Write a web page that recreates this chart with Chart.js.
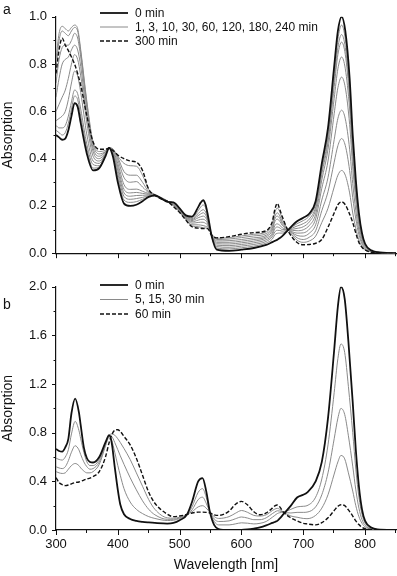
<!DOCTYPE html>
<html>
<head>
<meta charset="utf-8">
<script src="https://cdn.jsdelivr.net/npm/chart.js@4.4.1/dist/chart.umd.min.js"></script>
<style>
  html, body { margin: 0; padding: 0; background: #fff; }
  #wrap { position: relative; width: 397px; height: 576px; }
  canvas { position: absolute; left: 0; }
  #chartA { top: 0; }
  #chartB { top: 270px; }
</style>
</head>
<body>
<div id="wrap">
  <canvas id="chartA" width="397" height="270"></canvas>
  <canvas id="chartB" width="397" height="306"></canvas>
</div>
<script>
// ---- panel a : wavelengths (nm) and spectra ----
const lambdaA = [300,305,310,315,320,325,330,335,340,350,360,370,380,386,392,400,410,420,430,440,450,460,470,480,490,500,510,520,530,534,538,542,545,552,560,580,600,620,640,650,654,658,662,666,676,690,700,710,720,730,740,750,756,762,768,775,780,785,790,795,800,810,820,850];

const a0 = [0.50,0.49,0.48,0.485,0.52,0.58,0.635,0.62,0.55,0.42,0.35,0.36,0.41,0.445,0.41,0.30,0.21,0.20,0.205,0.22,0.238,0.244,0.232,0.217,0.215,0.19,0.16,0.155,0.195,0.214,0.224,0.205,0.17,0.07,0.015,0.01,0.015,0.022,0.035,0.047,0.052,0.057,0.064,0.072,0.10,0.135,0.15,0.168,0.22,0.38,0.53,0.79,0.94,1.0,0.94,0.74,0.50,0.31,0.17,0.085,0.04,0.012,0.004,0];
const a1 = [0.52,0.51,0.50,0.51,0.55,0.61,0.665,0.65,0.58,0.44,0.36,0.365,0.415,0.445,0.415,0.32,0.225,0.215,0.218,0.228,0.24,0.245,0.233,0.218,0.214,0.188,0.158,0.15,0.18,0.195,0.204,0.192,0.16,0.07,0.022,0.018,0.023,0.03,0.043,0.06,0.078,0.084,0.085,0.085,0.10,0.125,0.138,0.158,0.21,0.365,0.51,0.76,0.905,0.965,0.905,0.71,0.48,0.295,0.16,0.08,0.038,0.011,0.004,0];
const a3 = [0.54,0.53,0.53,0.54,0.58,0.64,0.69,0.675,0.61,0.46,0.375,0.37,0.415,0.445,0.42,0.335,0.24,0.228,0.231,0.236,0.243,0.246,0.233,0.219,0.213,0.186,0.156,0.146,0.168,0.178,0.184,0.174,0.15,0.071,0.028,0.025,0.03,0.037,0.05,0.07,0.09,0.097,0.096,0.093,0.10,0.115,0.125,0.145,0.197,0.35,0.49,0.73,0.87,0.925,0.87,0.68,0.46,0.28,0.152,0.076,0.036,0.011,0.004,0];
const a10 = [0.56,0.57,0.58,0.60,0.65,0.72,0.77,0.75,0.68,0.50,0.39,0.38,0.42,0.445,0.425,0.35,0.255,0.241,0.244,0.245,0.246,0.246,0.234,0.22,0.212,0.184,0.154,0.142,0.159,0.166,0.171,0.162,0.142,0.072,0.034,0.032,0.037,0.044,0.057,0.078,0.104,0.111,0.107,0.10,0.10,0.105,0.112,0.133,0.185,0.335,0.47,0.705,0.84,0.893,0.84,0.655,0.44,0.27,0.145,0.072,0.034,0.01,0.004,0];
const a30 = [0.60,0.63,0.66,0.69,0.74,0.80,0.84,0.82,0.75,0.55,0.41,0.39,0.42,0.445,0.43,0.365,0.27,0.255,0.257,0.253,0.249,0.246,0.234,0.22,0.211,0.182,0.152,0.138,0.15,0.154,0.157,0.15,0.135,0.073,0.04,0.039,0.044,0.051,0.064,0.086,0.117,0.124,0.118,0.108,0.10,0.095,0.099,0.118,0.165,0.31,0.44,0.655,0.78,0.83,0.78,0.61,0.41,0.25,0.135,0.067,0.032,0.01,0.004,0];
const a60 = [0.66,0.74,0.80,0.82,0.83,0.86,0.88,0.86,0.79,0.58,0.43,0.40,0.425,0.445,0.435,0.38,0.29,0.27,0.271,0.262,0.252,0.247,0.234,0.22,0.209,0.18,0.15,0.133,0.14,0.143,0.144,0.138,0.128,0.074,0.046,0.046,0.051,0.058,0.07,0.097,0.133,0.144,0.135,0.118,0.10,0.085,0.086,0.102,0.145,0.275,0.39,0.59,0.70,0.745,0.70,0.545,0.365,0.225,0.12,0.06,0.028,0.009,0.003,0];
const a120 = [0.72,0.82,0.87,0.88,0.88,0.90,0.93,0.91,0.83,0.61,0.445,0.41,0.43,0.445,0.44,0.395,0.32,0.30,0.303,0.28,0.256,0.247,0.234,0.221,0.206,0.178,0.148,0.127,0.13,0.131,0.131,0.126,0.12,0.076,0.052,0.053,0.058,0.065,0.076,0.105,0.145,0.157,0.147,0.125,0.10,0.075,0.072,0.085,0.12,0.225,0.32,0.48,0.57,0.605,0.568,0.44,0.295,0.18,0.097,0.048,0.023,0.008,0.003,0];
const a180 = [0.78,0.90,0.94,0.93,0.92,0.94,0.955,0.94,0.85,0.63,0.46,0.42,0.43,0.445,0.44,0.405,0.345,0.33,0.33,0.30,0.26,0.248,0.235,0.221,0.203,0.176,0.145,0.12,0.12,0.119,0.117,0.114,0.112,0.078,0.058,0.06,0.066,0.073,0.083,0.113,0.155,0.171,0.158,0.133,0.10,0.065,0.058,0.068,0.095,0.18,0.26,0.385,0.455,0.485,0.455,0.35,0.235,0.145,0.078,0.039,0.018,0.007,0.003,0];
const a240 = [0.82,0.93,0.96,0.95,0.94,0.955,0.965,0.95,0.86,0.64,0.47,0.43,0.435,0.445,0.44,0.41,0.38,0.37,0.368,0.33,0.27,0.248,0.235,0.222,0.20,0.174,0.142,0.115,0.112,0.11,0.108,0.107,0.106,0.08,0.063,0.066,0.073,0.08,0.09,0.125,0.172,0.191,0.175,0.145,0.098,0.055,0.046,0.052,0.072,0.13,0.19,0.28,0.33,0.35,0.33,0.255,0.17,0.105,0.056,0.028,0.014,0.006,0.002,0];
const a300 = [0.76,0.86,0.91,0.88,0.857,0.83,0.80,0.76,0.71,0.58,0.47,0.44,0.44,0.445,0.435,0.415,0.40,0.39,0.385,0.35,0.27,0.245,0.23,0.22,0.197,0.172,0.14,0.112,0.106,0.105,0.104,0.104,0.104,0.075,0.065,0.07,0.08,0.087,0.095,0.135,0.185,0.211,0.185,0.155,0.092,0.045,0.036,0.037,0.042,0.058,0.11,0.17,0.205,0.217,0.205,0.165,0.13,0.085,0.045,0.025,0.014,0.004,0.001,0];

// ---- panel b ----
const lambdaB = [300,305,310,315,320,325,331,337,340,345,350,355,360,370,380,386,390,395,400,404,410,420,430,440,450,460,480,490,500,512,520,530,537,543,549,556,563,580,590,600,610,620,630,640,650,654,658,662,668,680,690,700,706,720,730,740,750,756,761,767,773,780,785,790,795,800,810,820,850];

const b0 = [0.667,0.65,0.645,0.68,0.75,0.96,1.08,0.97,0.86,0.68,0.59,0.56,0.555,0.60,0.72,0.78,0.72,0.52,0.33,0.21,0.13,0.09,0.075,0.067,0.062,0.058,0.053,0.058,0.08,0.128,0.23,0.40,0.427,0.32,0.147,0.04,0.008,0.0,0.0,0.0,0.004,0.012,0.022,0.038,0.058,0.066,0.075,0.095,0.13,0.20,0.267,0.29,0.307,0.40,0.56,0.92,1.48,1.84,2.0,1.9,1.55,1.05,0.66,0.36,0.17,0.075,0.02,0.005,0];
const b5 = [0.59,0.58,0.575,0.60,0.66,0.79,0.893,0.82,0.75,0.64,0.56,0.53,0.53,0.58,0.71,0.775,0.74,0.64,0.53,0.45,0.34,0.23,0.17,0.135,0.11,0.095,0.078,0.08,0.095,0.128,0.19,0.31,0.34,0.27,0.15,0.07,0.042,0.042,0.05,0.059,0.056,0.05,0.055,0.07,0.105,0.12,0.135,0.142,0.147,0.17,0.19,0.195,0.20,0.27,0.42,0.70,1.13,1.41,1.53,1.46,1.18,0.80,0.50,0.27,0.13,0.057,0.015,0.004,0];
const b15 = [0.52,0.51,0.505,0.52,0.57,0.64,0.693,0.66,0.62,0.56,0.52,0.50,0.505,0.56,0.70,0.775,0.77,0.72,0.66,0.61,0.54,0.43,0.33,0.24,0.17,0.125,0.088,0.088,0.10,0.128,0.165,0.25,0.27,0.22,0.148,0.09,0.07,0.075,0.092,0.107,0.098,0.085,0.085,0.10,0.135,0.148,0.158,0.156,0.147,0.14,0.145,0.145,0.147,0.19,0.29,0.47,0.75,0.92,1.0,0.95,0.775,0.525,0.33,0.18,0.085,0.038,0.01,0.003,0];
const b30 = [0.48,0.47,0.465,0.47,0.50,0.53,0.547,0.53,0.51,0.485,0.47,0.47,0.48,0.54,0.69,0.775,0.79,0.78,0.75,0.72,0.67,0.58,0.47,0.36,0.25,0.17,0.10,0.097,0.105,0.128,0.15,0.19,0.20,0.18,0.145,0.11,0.095,0.11,0.137,0.16,0.145,0.12,0.115,0.125,0.16,0.172,0.178,0.17,0.147,0.115,0.105,0.095,0.093,0.12,0.18,0.29,0.46,0.56,0.613,0.585,0.47,0.32,0.20,0.11,0.055,0.025,0.007,0.002,0];
const b60 = [0.43,0.39,0.373,0.365,0.37,0.38,0.39,0.395,0.40,0.41,0.42,0.427,0.44,0.48,0.60,0.72,0.78,0.82,0.825,0.81,0.77,0.70,0.59,0.45,0.31,0.22,0.13,0.11,0.115,0.128,0.14,0.147,0.147,0.145,0.14,0.125,0.12,0.155,0.21,0.235,0.205,0.15,0.125,0.14,0.18,0.198,0.205,0.19,0.147,0.10,0.075,0.055,0.05,0.042,0.06,0.10,0.16,0.195,0.208,0.20,0.165,0.115,0.075,0.045,0.022,0.01,0.003,0.001,0];

// ---- axes ----
const xMajor = [300, 400, 500, 600, 700, 800];
const xMinor = [350, 450, 550, 650, 750, 850];
const yMajorA = [0, 0.2, 0.4, 0.6, 0.8, 1.0];
const yMinorA = [0.1, 0.3, 0.5, 0.7, 0.9];
const yMajorB = [0, 0.4, 0.8, 1.2, 1.6, 2.0];
const yMinorB = [0.2, 0.6, 1.0, 1.4, 1.8];

const legendA = ['0 min', '1, 3, 10, 30, 60, 120, 180, 240 min', '300 min'];
const legendB = ['0 min', '5, 15, 30 min', '60 min'];

const INK = '#111';
const GRAY = '#8a8a8a';
const FONT = '"Liberation Sans", Arial, sans-serif';

const pts = (xs, ys) => xs.map((x, i) => ({ x: x, y: ys[i] }));

const styles = {
    solid: { borderColor: INK, borderWidth: 1.8, borderDash: [] },
    gray: { borderColor: GRAY, borderWidth: 1, borderDash: [] },
    dash: { borderColor: INK, borderWidth: 1.4, borderDash: [4, 2] }
};

function setStroke(ctx, s) {
    ctx.strokeStyle = s.borderColor;
    ctx.lineWidth = s.borderWidth;
    ctx.setLineDash(s.borderDash);
}

// tick marks (major + minor), the legend and the panel letter
const decorations = {
    id: 'decorations',
    afterDraw(chart, args, o) {
        const ctx = chart.ctx;
        const xs = chart.scales.x, ys = chart.scales.y;
        const area = chart.chartArea;
        ctx.save();
        ctx.strokeStyle = INK;
        ctx.lineWidth = 1;
        ctx.setLineDash([]);
        ctx.beginPath();
        xMajor.forEach(v => {
            const px = Math.round(xs.getPixelForValue(v)) + 0.5;
            ctx.moveTo(px, area.bottom); ctx.lineTo(px, area.bottom + 5);
        });
        xMinor.forEach(v => {
            const px = Math.round(xs.getPixelForValue(v)) - 0.5;
            ctx.moveTo(px, area.bottom); ctx.lineTo(px, area.bottom + 3);
        });
        o.yMajor.forEach(v => {
            const py = Math.round(ys.getPixelForValue(v)) + 0.5;
            ctx.moveTo(area.left, py); ctx.lineTo(area.left - 4, py);
        });
        o.yMinor.forEach(v => {
            const py = Math.round(ys.getPixelForValue(v)) + 0.5;
            ctx.moveTo(area.left, py); ctx.lineTo(area.left - 2.5, py);
        });
        ctx.stroke();

        // legend
        const kinds = ['solid', 'gray', 'dash'];
        ctx.font = '12px ' + FONT;
        ctx.fillStyle = INK;
        ctx.textBaseline = 'middle';
        o.legend.forEach((text, i) => {
            const y = o.legendY + i * o.legendGap;
            setStroke(ctx, styles[kinds[i]]);
            ctx.beginPath();
            ctx.moveTo(100, y); ctx.lineTo(128, y);
            ctx.stroke();
            ctx.fillText(text, 135, y + 0.5);
        });

        // panel letter
        ctx.font = '14px ' + FONT;
        ctx.textBaseline = 'alphabetic';
        ctx.fillText(o.letter, 3, o.letterY);
        ctx.restore();
    }
};

function makePanel(id, xsArr, groups, cfg) {
    const datasets = [];
    datasets.push(Object.assign({ data: pts(xsArr, groups.first) }, styles.solid));
    datasets.push(Object.assign({ data: pts(xsArr, groups.last) }, styles.dash));
    groups.mid.forEach(ys => datasets.push(Object.assign({ data: pts(xsArr, ys) }, styles.gray)));

    return new Chart(document.getElementById(id), {
        type: 'line',
        data: { datasets: datasets },
        options: {
            responsive: false,
            animation: false,
            layout: { padding: { left: 0, top: cfg.top, right: 1, bottom: 0 } },
            elements: {
                point: { radius: 0 },
                line: { cubicInterpolationMode: 'monotone', fill: false }
            },
            plugins: {
                legend: { display: false },
                tooltip: { enabled: false },
                decorations: {
                    yMajor: cfg.yMajor, yMinor: cfg.yMinor,
                    legend: cfg.legend, legendY: cfg.legendY, legendGap: cfg.legendGap,
                    letter: cfg.letter, letterY: cfg.letterY
                }
            },
            scales: {
                x: {
                    type: 'linear',
                    min: 300,
                    max: 850,
                    afterBuildTicks: s => { s.ticks = xMajor.map(v => ({ value: v })); },
                    afterFit: s => { s.height = cfg.xHeight; },
                    grid: { display: false, drawTicks: false },
                    border: { display: true, color: INK, width: 1.2 },
                    ticks: {
                        display: cfg.xLabels,
                        padding: 7,
                        color: INK,
                        font: { family: FONT, size: 13 },
                        maxRotation: 0,
                        autoSkip: false
                    },
                    title: {
                        display: cfg.xLabels,
                        text: 'Wavelength [nm]',
                        color: INK,
                        font: { family: FONT, size: 14, lineHeight: 1.2 },
                        padding: { top: 0, bottom: 2 }
                    }
                },
                y: {
                    min: 0,
                    max: cfg.yMax,
                    afterBuildTicks: s => { s.ticks = cfg.yMajor.map(v => ({ value: v })); },
                    afterFit: s => { s.width = 56; },
                    grid: { display: false, drawTicks: false },
                    border: { display: true, color: INK, width: 1.2 },
                    ticks: {
                        padding: 9,
                        color: INK,
                        font: { family: FONT, size: 13 },
                        callback: v => v.toFixed(1)
                    },
                    title: {
                        display: true,
                        text: 'Absorption',
                        color: INK,
                        font: { family: FONT, size: 14, lineHeight: 1.2 },
                        padding: { top: 0, bottom: 0 }
                    }
                }
            }
        },
        plugins: [decorations]
    });
}

makePanel('chartA', lambdaA,
    { first: a0, last: a300, mid: [a1, a3, a10, a30, a60, a120, a180, a240] },
    { top: 6, xHeight: 14, xLabels: false, yMax: 1.0, yMajor: yMajorA, yMinor: yMinorA,
      legend: legendA, legendY: 13, legendGap: 14, letter: 'a', letterY: 14 });

makePanel('chartB', lambdaB,
    { first: b0, last: b60, mid: [b5, b15, b30] },
    { top: 10, xHeight: 46, xLabels: true, yMax: 2.0, yMajor: yMajorB, yMinor: yMinorB,
      legend: legendB, legendY: 15, legendGap: 14.5, letter: 'b', letterY: 39 });
</script>
</body>
</html>
